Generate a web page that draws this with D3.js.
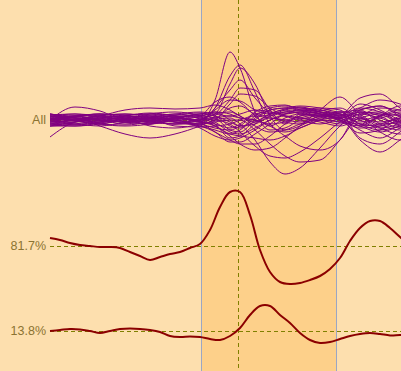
<!DOCTYPE html>
<html>
<head>
<meta charset="utf-8">
<script src="https://cdn.jsdelivr.net/npm/d3@7"></script>
<style>
  html, body { margin: 0; padding: 0; background: #fddfae; }
  svg { display: block; }
</style>
</head>
<body>
<div id="chart"></div>
<script>
// sample times for the overlaid profiles
const timePoints = [0, 5, 10, 15, 20, 25, 30, 33, 36, 38, 41, 44, 47, 50, 54, 58, 62, 66, 70, 74];
// sample times for the two single profiles
const detailTimes = d3.range(0, 73, 2);

// highlighted window and marker time
const highlightWindow = [30.2, 57.2];
const markerTime = 37.6;

const trackLabels = ['All', '81.7%', '13.8%'];

// overlaid profiles for the "All" track
const allProfiles = [
  [0.1, 0.0, -0.1, 0.1, 0.2, 0.0, -0.1, 1.0, 3.4, 2.6, 0.4, -0.5, -0.4, 0.0, 0.2, 0.1, -1.0, -1.6, -1.0, -0.2],
  [0.2, 0.1, 0.2, 0.0, -0.1, 0.1, 0.0, 0.6, 2.2, 2.75, 1.4, -0.2, -0.6, -0.4, 0.0, 0.2, 1.1, 1.3, 0.6, 0.0],
  [-0.1, 0.0, 0.1, 0.2, 0.0, -0.2, 0.1, 0.3, 1.8, 2.6, 1.8, 0.2, -0.5, -0.3, 0.2, 0.3, -0.9, -1.2, -0.6, 0.1],
  [0.0, 0.2, 0.0, -0.1, 0.1, 0.2, -0.1, 0.2, 1.0, 1.6, 1.5, 0.5, -0.2, 0.3, 0.4, 0.1, 0.6, 1.0, 0.8, 0.3],
  [0.0, 0.65, 0.45, 0.0, 0.1, 0.0, 0.2, 0.9, 1.15, 0.9, 0.2, -0.3, 0.1, 0.3, 0.2, -0.1, 0.3, 0.1, -0.2, 0.0],
  [-0.85, -0.1, 0.1, 0.0, -0.2, 0.1, 0.0, 0.5, 1.0, 0.95, 0.5, 0.3, 0.4, 0.5, 0.3, 0.0, -0.4, -0.3, 0.2, 0.4],
  [0.1, 0.0, 0.2, 0.5, 0.6, 0.55, 0.6, 0.75, 0.5, 0.2, -0.1, 0.2, 0.5, 0.6, 0.4, 0.2, 0.5, 0.7, 0.3, 0.0],
  [0.0, 0.1, -0.3, -0.7, -0.9, -0.7, -0.3, 0.0, 0.1, -0.2, -1.0, -2.1, -2.7, -2.4, -1.4, -0.3, 0.4, 0.3, -0.1, 0.0],
  [0.2, 0.0, -0.2, 0.1, 0.2, 0.0, -0.2, -0.1, 0.0, 0.0, -0.5, -1.2, -1.8, -2.1, -2.0, -1.0, 0.1, -0.6, -1.0, -0.5],
  [-0.2, -0.1, 0.1, 0.0, -0.1, 0.2, 0.1, 0.0, -0.2, -0.6, -1.3, -1.8, -1.9, -1.6, -0.9, -0.1, 0.4, 0.2, -0.3, -0.4],
  [0.3, 0.1, 0.0, -0.2, 0.0, 0.1, -0.1, -0.3, -0.8, -1.2, -1.5, -1.4, -0.9, -0.3, 0.5, 1.15, 0.3, -0.2, -0.1, 0.2],
  [-0.2, 0.0, 0.2, 0.1, -0.1, -0.2, -0.2, -0.6, -1.0, -1.2, -1.2, -0.8, -0.2, 0.2, 0.3, 0.0, -0.65, -0.5, 0.1, 0.3],
  [0.1, -0.2, -0.1, 0.2, 0.3, 0.1, 0.0, 0.1, 0.2, 0.1, 0.0, -0.3, -0.8, -1.3, -1.5, -1.0, 0.5, 0.7, 0.2, -0.1],
  [0.0, 0.1, 0.0, -0.1, -0.2, 0.0, -0.4, -0.8, -1.0, -0.9, -0.5, 0.0, 0.3, 0.5, 0.4, 0.3, -0.2, -0.5, -0.3, 0.0],
  [0.2, 0.1, -0.1, 0.0, 0.1, -0.1, -0.3, -0.6, -1.1, -1.1, -0.7, -0.2, 0.3, 0.4, 0.5, 0.2, 0.8, 0.5, 0.0, -0.2],
  [-0.3, -0.2, 0.0, 0.1, 0.0, -0.1, 0.0, -0.3, -0.7, -0.8, -0.9, -1.0, -0.8, -0.4, 0.0, 0.4, 0.2, -0.4, -0.7, -0.3],
  [0.0, -0.1, 0.1, 0.2, 0.0, 0.1, 0.3, 0.2, -0.3, -0.4, 0.2, 0.6, 0.7, 0.6, 0.5, 0.3, 0.0, 0.2, 0.4, 0.2],
  [0.15, 0.2, 0.0, -0.1, -0.2, 0.0, 0.2, 0.1, -0.5, -0.6, 0.0, 0.5, 0.6, 0.5, 0.6, 0.5, -0.3, -0.2, 0.1, 0.2],
  [-0.1, 0.0, 0.2, 0.3, 0.2, -0.1, -0.2, -0.4, -0.5, -0.3, 0.3, 0.4, 0.3, 0.4, 0.3, 0.0, 0.3, 0.4, -0.1, -0.2],
  [0.2, 0.3, 0.1, -0.1, 0.0, 0.2, 0.1, -0.2, -0.9, -0.8, -0.2, 0.3, 0.5, 0.3, 0.2, 0.1, -0.5, -0.9, -0.4, 0.1],
  [-0.3, -0.1, 0.0, 0.0, 0.2, 0.3, 0.4, 0.3, 0.2, 0.3, 0.5, 0.4, 0.2, 0.1, 0.0, -0.2, 0.2, 0.6, 0.5, 0.0],
  [0.0, 0.2, 0.3, 0.1, -0.3, -0.4, -0.2, 0.0, 0.6, 0.7, 0.3, 0.2, 0.4, 0.4, 0.1, 0.1, 0.4, 0.0, -0.4, -0.2],
  [0.3, 0.1, -0.2, -0.3, -0.2, 0.1, 0.3, 0.4, 0.0, -0.3, -0.2, 0.1, 0.0, -0.1, 0.2, 0.4, -0.2, -0.3, 0.0, 0.3],
  [-0.2, -0.3, -0.2, 0.0, 0.3, 0.4, 0.2, -0.1, -0.6, -0.7, -0.4, 0.0, 0.2, 0.1, -0.1, -0.3, 0.1, 0.3, 0.2, 0.0],
  [0.1, 0.2, 0.3, 0.2, 0.1, -0.1, -0.3, -0.5, -0.7, -0.5, 0.1, 0.5, 0.6, 0.7, 0.6, 0.4, 0.5, -0.2, -0.5, -0.1],
  [-0.1, -0.2, -0.3, -0.1, 0.1, 0.3, 0.2, 0.4, 0.3, 0.1, 0.0, -0.2, -0.1, 0.1, 0.3, 0.2, -0.1, 0.1, 0.3, 0.2],
  [0.25, 0.3, 0.2, 0.0, -0.1, -0.2, 0.0, 0.3, 0.4, 0.2, -0.3, -0.6, -0.5, -0.2, 0.1, 0.3, 0.1, -0.1, 0.1, 0.2],
  [-0.2, -0.25, -0.1, 0.2, 0.35, 0.2, -0.1, -0.2, -0.4, -0.2, 0.4, 0.7, 0.75, 0.5, 0.3, 0.1, -0.3, -0.6, -0.3, 0.0],
  [0.05, -0.05, -0.2, -0.25, -0.1, 0.15, 0.25, 0.1, 0.8, 1.3, 1.2, 0.6, 0.2, 0.0, -0.2, 0.1, 0.6, 0.4, -0.1, -0.2],
  [-0.3, -0.3, -0.15, 0.05, 0.1, 0.25, 0.35, 0.2, -0.1, -0.3, -0.1, 0.3, 0.55, 0.65, 0.4, 0.0, -0.2, 0.2, 0.5, 0.3],
  [0.3, 0.2, 0.25, 0.3, 0.1, -0.3, -0.35, -0.3, -0.2, 0.0, 0.2, 0.1, 0.0, 0.2, 0.45, 0.6, 0.0, -0.4, -0.2, 0.1],
  [-0.1, 0.15, 0.3, 0.25, 0.3, 0.2, -0.1, 0.6, 1.5, 2.0, 1.1, 0.3, -0.1, -0.2, 0.0, -0.1, -0.3, 0.2, 0.7, 0.4]
];

// single-profile tracks, sampled on detailTimes
const profileHigh = [0.4, 0.3, 0.15, 0.05, 0.0, -0.05, -0.05, -0.1, -0.3, -0.5, -0.7, -0.55, -0.4, -0.3, -0.1, 0.1,
  0.8, 1.95, 2.7, 2.7, 1.55, -0.2, -1.3, -1.8, -1.9, -1.85, -1.7, -1.5, -1.15, -0.6, 0.25, 0.9, 1.25, 1.25, 0.9, 0.45, 0.0];
const profileLow = [0.0, 0.05, 0.1, 0.08, 0.0, -0.1, 0.0, 0.1, 0.12, 0.1, 0.05, -0.05, -0.25, -0.3, -0.28, -0.3,
  -0.4, -0.45, -0.25, 0.15, 0.8, 1.25, 1.25, 0.8, 0.4, -0.1, -0.45, -0.6, -0.55, -0.4, -0.25, -0.15, -0.1, -0.15, -0.22, -0.2, -0.2];

const width = 401;
const height = 371;
const left = 50;
const unit = 20;            // pixels per unit of signal
const baselines = [120, 246, 331];

const svg = d3.select('#chart')
  .append('svg')
  .attr('width', width)
  .attr('height', height);

svg.append('rect')
  .attr('width', width)
  .attr('height', height)
  .attr('fill', '#fddfae');

const x = d3.scaleLinear()
  .domain([0, 70])
  .range([left, 400]);

// one y scale per track, centred on its baseline
const yScales = baselines.map(b => d3.scaleLinear().domain([-1, 1]).range([b + unit, b - unit]));

// highlighted window
svg.append('rect')
  .attr('x', x(highlightWindow[0]))
  .attr('y', 0)
  .attr('width', x(highlightWindow[1]) - x(highlightWindow[0]))
  .attr('height', height)
  .attr('fill', '#fdd08a');

svg.selectAll('line.edge')
  .data(highlightWindow)
  .join('line')
  .attr('class', 'edge')
  .attr('x1', d => Math.round(x(d)) + 0.5)
  .attr('x2', d => Math.round(x(d)) + 0.5)
  .attr('y1', 0)
  .attr('y2', height)
  .attr('stroke', '#9aa6c4')
  .attr('stroke-width', 1);

// baselines
svg.selectAll('line.base')
  .data(yScales)
  .join('line')
  .attr('class', 'base')
  .attr('x1', left)
  .attr('x2', width)
  .attr('y1', s => Math.round(s(0)) + 0.5)
  .attr('y2', s => Math.round(s(0)) + 0.5)
  .attr('stroke', '#808000')
  .attr('stroke-dasharray', '4,3');

// marker
svg.append('line')
  .attr('x1', Math.round(x(markerTime)) + 0.5)
  .attr('x2', Math.round(x(markerTime)) + 0.5)
  .attr('y1', 0)
  .attr('y2', height)
  .attr('stroke', '#808000')
  .attr('stroke-dasharray', '4,3');

const lineFor = (s, times, curve) => d3.line()
  .x((d, i) => x(times[i]))
  .y(d => s(d))
  .curve(curve);

svg.append('g')
  .attr('fill', 'none')
  .attr('stroke', '#800080')
  .attr('stroke-width', 1)
  .selectAll('path')
  .data(allProfiles)
  .join('path')
  .attr('d', lineFor(yScales[0], timePoints, d3.curveMonotoneX));

svg.append('g')
  .attr('fill', 'none')
  .attr('stroke', '#8b0000')
  .attr('stroke-width', 2)
  .selectAll('path')
  .data([profileHigh, profileLow])
  .join('path')
  .attr('d', (d, i) => lineFor(yScales[i + 1], detailTimes, d3.curveCatmullRom)(d));

svg.selectAll('text.label')
  .data(trackLabels)
  .join('text')
  .attr('class', 'label')
  .attr('x', 46)
  .attr('y', (d, i) => yScales[i](0))
  .attr('dy', '0.35em')
  .attr('text-anchor', 'end')
  .attr('font-family', 'Liberation Sans, Arial, sans-serif')
  .attr('font-size', 12.5)
  .attr('fill', '#8b7331')
  .text(d => d);
</script>
</body>
</html>
